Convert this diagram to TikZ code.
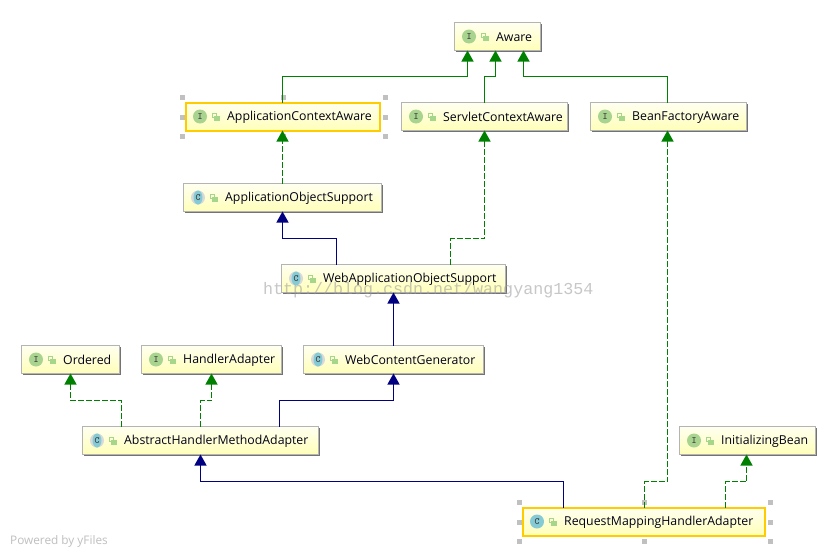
\documentclass[tikz,border=0pt]{standalone}
\usepackage{fontspec}
\setmainfont{Open Sans}
\newfontfamily\markfont{Liberation Mono}
\usetikzlibrary{arrows.meta,shadows}
\definecolor{implgreen}{HTML}{008000}
\definecolor{extnavy}{HTML}{000080}
\definecolor{boxtop}{HTML}{FFFFF0}
\definecolor{boxbot}{HTML}{FFFFB8}
\definecolor{boxedge}{HTML}{B4B4B4}
\definecolor{selgold}{HTML}{FFCC00}
\definecolor{handlegray}{HTML}{C0C0C0}
\definecolor{icongreen}{HTML}{A8D48F}
\definecolor{iconteal}{HTML}{84CBD6}
\definecolor{lockgreen}{HTML}{A5D68A}
\tikzset{
  plainbox/.style={draw=boxedge,line width=1pt,top color=boxtop,bottom color=boxbot,
    minimum height=28pt,inner sep=0pt,outer sep=0pt,
    general shadow={shadow xshift=1pt,shadow yshift=-1pt,fill=black!55}},
  selectedbox/.style={draw=selgold,line width=2pt,top color=boxtop,bottom color=boxbot,
    minimum height=28pt,inner sep=0pt,outer sep=0pt},
  boxlabel/.style={anchor=west,inner sep=0pt,font=\fontsize{12.3}{15}\selectfont,text=black!90!blue},
  iconI/.style={circle,fill=icongreen,minimum size=14pt,inner sep=0pt},
  iconC/.style={circle,fill=iconteal,minimum size=14pt,inner sep=0pt},
  iconA/.style={circle,fill=black!15,minimum size=14pt,inner sep=0pt,
    path picture={\fill[iconteal] (path picture bounding box.center) ellipse (4.5pt and 7pt);}},
  impl/.style={draw=implgreen,fill=none,line width=1.3pt,-{Triangle[width=12pt,length=11pt,fill=implgreen]}},
  impldash/.style={impl,dash pattern=on 6pt off 2pt},
  extline/.style={draw=extnavy,line width=1.3pt,-{Triangle[width=12pt,length=11pt,fill=extnavy]}},
}
\begin{document}
\begin{tikzpicture}[x=1pt,y=-1pt]
  \useasboundingbox[fill=white] (0,0) rectangle (836,557);

  % selection handles
  \foreach \x/\y in {182/97,283/97,385/97,182/117,385/117,182/136,283/136,385/136,
    519/502,644/502,770/502,519/522,770/522,519/541,644/541,770/541} {
    \fill[handlegray] (\x-2.5,\y-2.5) rectangle (\x+2.5,\y+2.5);
  }

  \foreach \name/\cx/\cy/\w/\kind/\letter/\st/\txt in {
    aware/497.5/36.5/86/I/I/plainbox/Aware,
    appctx/282.5/116.5/194/I/I/selectedbox/ApplicationContextAware,
    servletctx/484.5/116.5/166/I/I/plainbox/ServletContextAware,
    beanfac/668.5/116.5/156/I/I/plainbox/BeanFactoryAware,
    appobj/282.5/197.5/198/A/C/plainbox/ApplicationObjectSupport,
    webobj/393.5/278.5/224/A/C/plainbox/WebApplicationObjectSupport,
    ordered/70.5/359.5/98/I/I/plainbox/Ordered,
    handler/211.5/359.5/140/I/I/plainbox/HandlerAdapter,
    webgen/393.5/359.5/180/A/C/plainbox/WebContentGenerator,
    abstract/200.5/440.5/236/A/C/plainbox/AbstractHandlerMethodAdapter,
    initbean/747.5/440.5/136/I/I/plainbox/InitializingBean,
    request/643.5/521.5/242/C/C/selectedbox/RequestMappingHandlerAdapter} {
    \node[\st,minimum width=\w] (\name) at (\cx,\cy) {};
    \node[icon\kind] (\name i) at ([xshift=14.5]\name.west) {\ttfamily\bfseries\fontsize{9.5}{9.5}\selectfont\color{black!75}\letter};
    \node[boxlabel] (\name t) at ([xshift=41.5,yshift=-0.7]\name.west) {\txt};
    \draw[lockgreen,line width=1pt] ([xshift=26.5,yshift=-0.5]\name.west) rectangle ([xshift=30.5,yshift=3.5]\name.west);
    \fill[lockgreen] ([xshift=28.5,yshift=-4]\name.west) rectangle ([xshift=34,yshift=0.5]\name.west);
  }

  % connectors
  \draw[impl] (appctx.north) -- ++(0,-26) -| ([xshift=-30]aware.south);
  \draw[impl] (servletctx.north) -- ++(0,-26) -| ([xshift=-2]aware.south);
  \draw[impl] ([xshift=-1]beanfac.north) -- ++(0,-26) -| ([xshift=26]aware.south);
  \draw[impldash] (appobj.north) -- (appctx.south);
  \draw[extline] ([xshift=-57]webobj.north) -- ++(0,-26) -| (appobj.south);
  \draw[impldash] ([xshift=57]webobj.north) -- ++(0,-26) -| (servletctx.south);
  \draw[extline] (webgen.north) -- (webobj.south);
  \draw[impldash] ([xshift=-79]abstract.north) -- ++(0,-26) -| (ordered.south);
  \draw[impldash] (abstract.north) -- ++(0,-26) -| (handler.south);
  \draw[extline] ([xshift=79]abstract.north) -- ++(0,-26) -| (webgen.south);
  \draw[extline] ([xshift=-80]request.north) -- ++(0,-26) -| (abstract.south);
  \draw[impldash] ([xshift=1]request.north) -- ++(0,-26) -| ([xshift=-1]beanfac.south);
  \draw[impldash] ([xshift=82]request.north) -- ++(0,-26) -| ([xshift=-1]initbean.south);

  \node[anchor=west,inner sep=0pt,text=black!25,font=\fontsize{11.8}{14}\selectfont] (powered) at (10,541) {Powered by yFiles};
  \node[anchor=west,inner sep=0pt,text=black!40,opacity=0.55,font=\markfont\fontsize{16.67}{18}\selectfont] (watermark) at (263,290) {http://blog.csdn.net/wangyang1354};
\end{tikzpicture}
\end{document}
